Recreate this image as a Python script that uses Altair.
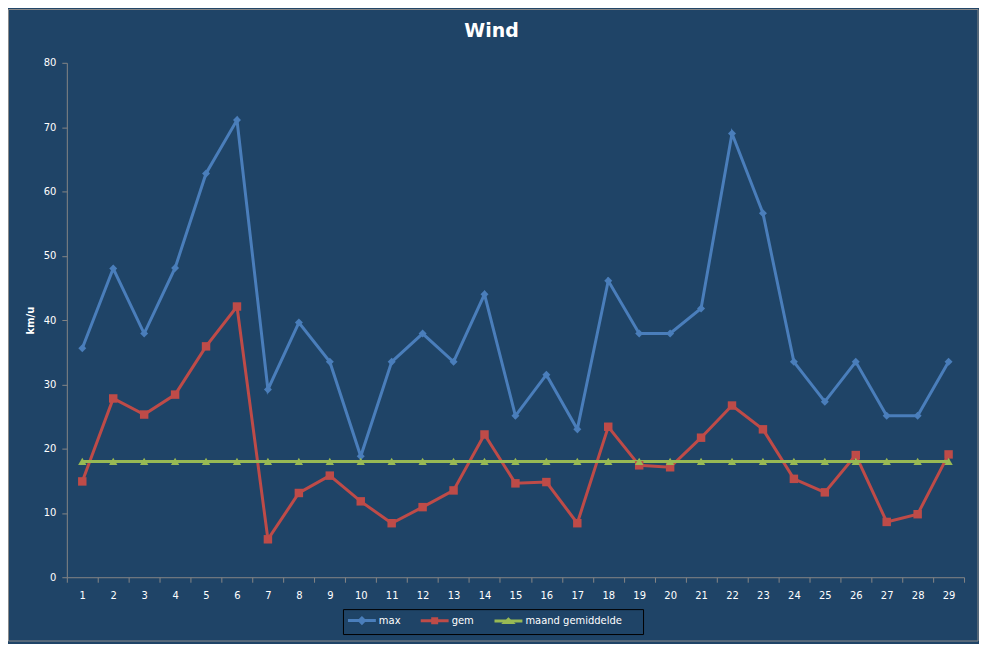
import altair as alt
import pandas as pd

# daily wind values (km/u)
dagen = list(range(1, 30))
max_wind = [35.6, 48.0, 37.9, 48.1, 62.8, 71.1, 29.2, 39.6, 33.5, 18.8,
            33.5, 37.9, 33.5, 44.0, 25.1, 31.5, 23.0, 46.1, 37.9, 37.9,
            41.8, 69.0, 56.6, 33.5, 27.3, 33.5, 25.1, 25.1, 33.5]
gem_wind = [14.9, 27.8, 25.3, 28.4, 35.9, 42.1, 5.9, 13.1, 15.8, 11.8,
            8.4, 10.9, 13.5, 22.2, 14.6, 14.8, 8.4, 23.4, 17.4, 17.1,
            21.7, 26.7, 23.0, 15.3, 13.2, 19.0, 8.6, 9.8, 19.1]
maand_gem = [18.0, 18.0, 18.0, 18.0, 18.0, 18.0, 18.0, 18.0, 18.0, 18.0,
             18.0, 18.0, 18.0, 18.0, 18.0, 18.0, 18.0, 18.0, 18.0, 18.0,
             18.0, 18.0, 18.0, 18.0, 18.0, 18.0, 18.0, 18.0, 18.0]

reeksen = ["max", "gem", "maand gemiddelde"]
kleuren = ["#4A7EBB", "#BE4B48", "#98B954"]
vormen = ["diamond", "square", "triangle-up"]
groottes = [64, 72, 70]

# legend symbols: a short line with the marker in the middle
# (drawn wider than the nominal symbol box, so the entries stay low;
# the zero-length bits only widen the legend box a little)
legend_paden = [
    "M -3.5 0 L -3.5 0 M -1.3 0 L 4.3 0 M 1.5 -0.5 L 2.0 0 L 1.5 0.5 L 1.0 0 Z",
    "M -1.3 0 L 4.3 0 M 1.1 -0.4 L 1.9 -0.4 L 1.9 0.4 L 1.1 0.4 Z",
    "M -1.3 0 L 4.3 0 M 1.5 -0.35 L 2.2 0.3 L 0.8 0.3 Z M 26.3 0 L 26.3 0",
]

BG = "#1F4467"
AS = "#868686"
FONT = "DejaVu Sans"

df = pd.DataFrame({"dag": dagen, "max": max_wind, "gem": gem_wind,
                   "maand gemiddelde": maand_gem})
lang = df.melt(id_vars="dag", var_name="reeks", value_name="kmu")

x = alt.X("dag:O", scale=alt.Scale(paddingInner=0, paddingOuter=0),
          axis=alt.Axis(title=None, labelAngle=0, tickBand="extent",
                        domainColor=AS, tickColor=AS, tickSize=5,
                        labelColor="white", labelFont=FONT, labelFontSize=10,
                        labelPadding=8, grid=False))
y = alt.Y("kmu:Q", scale=alt.Scale(domain=[0, 80], nice=False),
          axis=alt.Axis(values=list(range(0, 81, 10)), title="km/u",
                        titleColor="white", titleFont=FONT, titleFontSize=10,
                        titleFontWeight="bold", titlePadding=8,
                        domainColor=AS, tickColor=AS, tickSize=5,
                        labelColor="white", labelFont=FONT, labelFontSize=10,
                        labelPadding=6, grid=False))

kleur = alt.Color("reeks:N", scale=alt.Scale(domain=reeksen, range=kleuren),
                  legend=alt.Legend(title=None, orient="none", legendX=277,
                                    legendY=548, direction="horizontal",
                                    strokeColor="black", padding=5,
                                    symbolSize=100, symbolStrokeWidth=3,
                                    labelOffset=18, columnPadding=14,
                                    labelColor="white", labelFont=FONT,
                                    labelFontSize=10))

base = alt.Chart(lang).encode(x=x, y=y)

lijnen = base.mark_line(strokeWidth=3).encode(color=kleur)

punten = []
for naam, kl, vorm, grootte in zip(reeksen, kleuren, vormen, groottes):
    punten.append(
        base.transform_filter(alt.datum.reeks == naam).mark_point(
            filled=True, shape=vorm, size=grootte, color=kl, opacity=1
        )
    )

# legend-only layer: its marks are pushed outside the clipped view
legenda = alt.Chart(lang).mark_point(
    filled=False, strokeWidth=3, opacity=1, clip=True
).encode(
    x=alt.value(-500), y=alt.value(-500),
    color=kleur,
    shape=alt.Shape("reeks:N", scale=alt.Scale(domain=reeksen, range=legend_paden)),
)

kader = alt.Chart(alt.Data(values=[{}])).mark_rect(
    filled=False, stroke="#8C8C8C", strokeWidth=1
).encode(x=alt.value(-58.5), x2=alt.value(914), y=alt.value(-53.5), y2=alt.value(580))

chart = alt.layer(kader, lijnen, *punten, legenda).properties(
    width=900,
    height=516,
    autosize="none",
    padding={"left": 59, "top": 54, "right": 15, "bottom": 66},
    title=alt.TitleParams("Wind", color="white", font=FONT, fontSize=19,
                          fontWeight="bold", frame="group", anchor="middle",
                          dx=-24, offset=-32),
).configure(background=BG).configure_view(stroke=None)

chart.save("out.html", embed_options={"renderer": "svg", "actions": False})
